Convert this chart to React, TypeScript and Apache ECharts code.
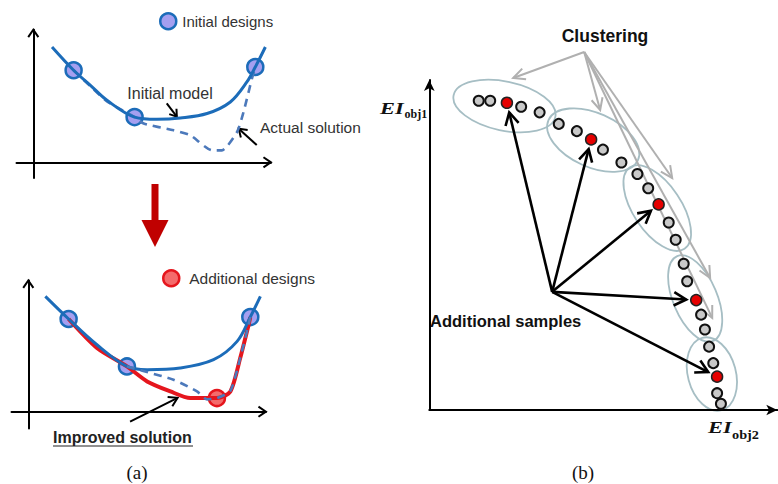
import React, { useEffect, useRef } from "react";
import * as echarts from "echarts";

// ---- Panel (a), top: initial surrogate model vs. actual solution ----
const modelTop: number[][] = [
  [0.78, 8.87], [1.68, 7.08], [2.38, 5.92], [3.07, 4.77], [4.22, 3.48], [5.15, 3.31],
  [6.13, 3.41], [7.24, 3.75], [8.21, 4.64], [8.9, 6.18], [9.25, 7.33], [9.67, 8.87],
];
const actualTop: number[][] = [
  [1.68, 7.08], [2.38, 5.85], [3.07, 4.69], [4.22, 3.48], [4.6, 2.98], [5.85, 2.46],
  [6.54, 2.08], [7.45, 0.92], [7.86, 0.92], [8.49, 2.33], [8.76, 3.87], [9.11, 6.44], [9.25, 7.33],
];
const initialDesignsTop: number[][] = [[1.68, 7.08], [4.22, 3.48], [9.25, 7.33]];

// ---- Panel (a), bottom: improved solution with an additional design ----
const modelBottom: number[][] = [
  [0.71, 8.87], [1.68, 7.13], [2.86, 5.15], [4.11, 3.48], [4.95, 3.23], [6.33, 3.36],
  [7.72, 4.0], [8.7, 5.41], [9.25, 7.28], [9.67, 8.87],
];
const improvedSolution: number[][] = [
  [1.68, 7.13], [2.86, 4.9], [4.11, 3.48], [4.95, 2.33], [5.92, 1.56], [6.75, 1.05],
  [7.86, 1.05], [8.42, 1.56], [8.83, 4.13], [9.18, 6.69], [9.25, 7.28],
];
const actualBottom: number[][] = [
  [4.11, 3.48], [4.95, 3.05], [6.05, 2.46], [7.03, 1.56], [7.45, 0.95], [7.86, 1.05],
  [8.42, 1.6], [8.83, 4.13], [9.18, 6.69], [9.25, 7.28],
];
const initialDesignsBottom: number[][] = [[1.68, 7.13], [4.11, 3.48], [9.25, 7.28]];
const additionalDesigns: number[][] = [[7.86, 1.05]];

// ---- Panel (b): EI front samples and selected (additional) samples ----
const frontSamples: number[][] = [
  [14.2, 93.7], [17.5, 93.7], [26.4, 91.9], [31.7, 90.2], [37.2, 86.7], [42.4, 84.5],
  [49.9, 78.9], [55.2, 75.0], [59.8, 71.5], [62.9, 67.2], [68.8, 56.8], [70.8, 51.6],
  [73.1, 44.3], [74.1, 39.0], [78.1, 28.9], [79.2, 24.4], [80.4, 19.2], [81.6, 14.2],
  [82.7, 5.1], [83.8, 1.9],
];
const selectedSamples: number[][] = [
  [22.3, 93.1], [46.5, 82.0], [65.9, 62.3], [76.7, 33.3], [82.7, 10.1],
];

const SANS = '"Liberation Sans", Arial, sans-serif';
const SERIF = '"Liberation Serif", "Times New Roman", serif';
const BLUE = "#1c6cb9";
const DASH_BLUE = "#4c79bb";
const RED = "#e5161d";

function arrowHead(tip: number[], from: number[], len: number, ang: number) {
  const dx = tip[0] - from[0];
  const dy = tip[1] - from[1];
  const d = Math.hypot(dx, dy) || 1;
  const bx = -dx / d;
  const by = -dy / d;
  const c = Math.cos(ang);
  const s = Math.sin(ang);
  return [
    [tip[0] + len * (bx * c - by * s), tip[1] + len * (bx * s + by * c)],
    [tip[0], tip[1]],
    [tip[0] + len * (bx * c + by * s), tip[1] + len * (-bx * s + by * c)],
  ];
}

function text(x: number, y: number, t: string, font: string, align = "left", fill = "#333", extra: any = {}) {
  return {
    type: "text",
    x,
    y,
    ...extra,
    style: { text: t, font, fill, align, verticalAlign: "middle", textAlign: align, textVerticalAlign: "middle" },
  };
}

function buildGraphics(chart: echarts.ECharts) {
  const px = (gi: number, p: number[]) => chart.convertToPixel({ gridIndex: gi } as any, p) as number[];
  const els: any[] = [];
  const line = (a: number[], b: number[], color: string, w: number) =>
    els.push({ type: "line", shape: { x1: a[0], y1: a[1], x2: b[0], y2: b[1] }, style: { stroke: color, lineWidth: w } });
  const head = (tip: number[], from: number[], len: number, ang: number, color: string, w: number) =>
    els.push({ type: "polyline", shape: { points: arrowHead(tip, from, len, ang) }, style: { stroke: color, lineWidth: w, fill: "none", lineJoin: "miter" } });
  const arrow = (from: number[], tip: number[], len: number, ang: number, color: string, w: number) => {
    line(from, tip, color, w);
    head(tip, from, len, ang, color, w);
  };

  // open arrowheads of the schematic axes in panel (a)
  [0, 1].forEach((gi) => {
    const o = px(gi, [0, 0]);
    const xEnd = px(gi, [9.9, 0]);
    const yEnd = px(gi, [0, gi === 0 ? 10.2 : 10.1]);
    head(xEnd, o, 9, 0.6, "#000", 2);
    head(yEnd, o, 9, 0.6, "#000", 2);
  });

  // annotation arrows, panel (a)
  arrow(px(0, [5.56, 4.54]), px(0, [5.98, 3.51]), 8, 0.6, "#000", 2);
  arrow(px(0, [9.31, 1.33]), px(0, [8.56, 2.58]), 9, 0.6, "#000", 2);
  arrow(px(1, [4.24, -0.77]), px(1, [6.22, 1.07]), 10, 0.55, "#000", 2);

  // big red down arrow between the two schematics
  els.push({
    type: "polygon",
    shape: { points: [[151.5, 184], [158.5, 184], [158.5, 220], [168.5, 220], [155, 247], [141.5, 220], [151.5, 220]] },
    style: { fill: "#c00000" },
  });

  // texts of panel (a)
  els.push(text(170, 93.5, "Initial model", `16px ${SANS}`, "center"));
  els.push(text(260, 127, "Actual solution", `15.5px ${SANS}`));
  els.push(text(53, 437.5, "Improved solution", `bold 16px ${SANS}`, "left", "#222"));
  els.push({ type: "line", shape: { x1: 53, y1: 446, x2: 193, y2: 446 }, style: { stroke: "#222", lineWidth: 1.2 } });
  els.push(text(137, 472, "(a)", `19px ${SERIF}`, "center", "#111"));

  // panel (b): cluster ellipses
  const clusters = [
    { c: [21.6, 92.1], rx: 52, ry: 24.5, rot: -0.21 },
    { c: [47.1, 81.8], rx: 49, ry: 27, rot: -0.42 },
    { c: [65.5, 61.2], rx: 49, ry: 24, rot: -0.98 },
    { c: [76.4, 33.8], rx: 46, ry: 22, rot: -1.17 },
    { c: [81.2, 10.9], rx: 37.5, ry: 24, rot: -1.31 },
  ];
  clusters.forEach((k) => {
    const p = px(2, k.c);
    els.push({
      type: "ellipse",
      x: p[0],
      y: p[1],
      rotation: k.rot,
      shape: { cx: 0, cy: 0, rx: k.rx, ry: k.ry },
      style: { fill: "none", stroke: "#a6bec4", lineWidth: 1.8 },
    });
  });

  // clustering arrows (grey)
  const apex = px(2, [44.5, 108.5]);
  [[24.1, 100.6], [49.1, 90.9], [69.8, 70.3], [80.7, 40.0], [81.3, 27.9]].forEach((t) => {
    arrow(apex, px(2, t), 13, 0.45, "#b0b0b0", 2);
  });

  // additional-sample arrows (black)
  const origin = px(2, [35.3, 35.8]);
  selectedSamples.forEach((s) => {
    const p = px(2, s);
    const dx = p[0] - origin[0];
    const dy = p[1] - origin[1];
    const d = Math.hypot(dx, dy);
    const tip = [p[0] - (dx / d) * 10, p[1] - (dy / d) * 10];
    arrow(origin, tip, 14, 0.5, "#000", 2.6);
  });

  // texts of panel (b)
  els.push(text(605, 36, "Clustering", `bold 17.5px ${SANS}`, "center", "#111"));
  els.push(text(430, 321, "Additional samples", `bold 16.5px ${SANS}`, "left", "#111"));
  els.push(text(380, 108.5, "EI", `italic bold 16px ${SERIF}`, "left", "#111", { scaleX: 1.4 }));
  els.push(text(404.5, 113.5, "obj1", `bold 12px ${SERIF}`, "left", "#111"));
  els.push(text(708, 427.5, "EI", `italic bold 16px ${SERIF}`, "left", "#111", { scaleX: 1.4 }));
  els.push(text(732, 435, "obj2", `bold 13px ${SERIF}`, "left", "#111", { scaleX: 1.1 }));
  els.push(text(583, 472, "(b)", `19px ${SERIF}`, "center", "#111"));

  return els;
}

const hiddenAxisParts = {
  axisTick: { show: false },
  axisLabel: { show: false },
  splitLine: { show: false },
};

const leftAxisLine = { show: true, onZero: true, lineStyle: { color: "#000", width: 2 } };
const rightAxisLine = {
  show: true,
  onZero: true,
  symbol: ["none", "arrow"],
  symbolSize: [8, 11],
  lineStyle: { color: "#000", width: 2 },
};

const option: any = {
  animation: false,
  backgroundColor: "#fff",
  grid: [
    { left: 16.5, top: 29.7, width: 254.4, height: 148.2, outerBoundsMode: "none" },
    { left: 11.5, top: 280.4, width: 254.4, height: 148.2, outerBoundsMode: "none" },
    { left: 429.3, top: 80, width: 348, height: 330, outerBoundsMode: "none" },
  ],
  xAxis: [
    { gridIndex: 0, type: "value", min: -0.7, max: 9.9, axisLine: leftAxisLine, ...hiddenAxisParts },
    { gridIndex: 1, type: "value", min: -0.7, max: 9.9, axisLine: leftAxisLine, ...hiddenAxisParts },
    { gridIndex: 2, type: "value", min: 0, max: 100, axisLine: rightAxisLine, ...hiddenAxisParts },
  ],
  yAxis: [
    { gridIndex: 0, type: "value", min: -1.2, max: 10.2, axisLine: leftAxisLine, ...hiddenAxisParts },
    { gridIndex: 1, type: "value", min: -1.3, max: 10.1, axisLine: leftAxisLine, ...hiddenAxisParts },
    { gridIndex: 2, type: "value", min: 0, max: 100, axisLine: rightAxisLine, ...hiddenAxisParts },
  ],
  legend: [
    {
      data: ["Initial designs"],
      left: 159,
      top: 12,
      padding: 0,
      icon: "circle",
      itemWidth: 16,
      itemHeight: 16,
      itemGap: 0,
      selectedMode: false,
      itemStyle: { color: "#a59ff0", borderColor: BLUE, borderWidth: 2.5 },
      textStyle: { fontSize: 15, color: "#333", fontFamily: SANS, padding: [0, 0, 0, 1] },
    },
    {
      data: ["Additional designs"],
      left: 162,
      top: 269,
      padding: 0,
      icon: "circle",
      itemWidth: 16,
      itemHeight: 16,
      itemGap: 0,
      selectedMode: false,
      itemStyle: { color: "#f46b6b", borderColor: RED, borderWidth: 2.5 },
      textStyle: { fontSize: 15.5, color: "#333", fontFamily: SANS, padding: [0, 0, 0, 5] },
    },
  ],
  series: [
    {
      name: "Actual solution",
      type: "line",
      xAxisIndex: 0,
      yAxisIndex: 0,
      data: actualTop,
      smooth: 0.2,
      symbol: "none",
      silent: true,
      lineStyle: { color: DASH_BLUE, width: 2.6, type: [8, 6] },
    },
    {
      name: "Initial model",
      type: "line",
      xAxisIndex: 0,
      yAxisIndex: 0,
      data: modelTop,
      smooth: 0.35,
      symbol: "none",
      silent: true,
      lineStyle: { color: BLUE, width: 3 },
    },
    {
      name: "Initial designs",
      type: "scatter",
      xAxisIndex: 0,
      yAxisIndex: 0,
      data: initialDesignsTop,
      symbolSize: 16,
      silent: true,
      itemStyle: { color: "#a59ff0", borderColor: BLUE, borderWidth: 2.5, opacity: 1 },
    },
    {
      name: "Improved solution",
      type: "line",
      xAxisIndex: 1,
      yAxisIndex: 1,
      data: improvedSolution,
      smooth: 0.25,
      symbol: "none",
      silent: true,
      lineStyle: { color: RED, width: 4 },
    },
    {
      name: "Updated model",
      type: "line",
      xAxisIndex: 1,
      yAxisIndex: 1,
      data: modelBottom,
      smooth: 0.35,
      symbol: "none",
      silent: true,
      lineStyle: { color: BLUE, width: 3 },
    },
    {
      name: "Actual solution (b)",
      type: "line",
      xAxisIndex: 1,
      yAxisIndex: 1,
      data: actualBottom,
      smooth: 0.2,
      symbol: "none",
      silent: true,
      lineStyle: { color: DASH_BLUE, width: 2.6, type: [8, 6] },
    },
    {
      name: "Initial designs",
      type: "scatter",
      xAxisIndex: 1,
      yAxisIndex: 1,
      data: initialDesignsBottom,
      symbolSize: 16,
      silent: true,
      itemStyle: { color: "#a59ff0", borderColor: BLUE, borderWidth: 2.5, opacity: 1 },
    },
    {
      name: "Additional designs",
      type: "scatter",
      xAxisIndex: 1,
      yAxisIndex: 1,
      data: additionalDesigns,
      symbolSize: 16,
      silent: true,
      itemStyle: { color: "#f46b6b", borderColor: RED, borderWidth: 2.5, opacity: 1 },
    },
    {
      name: "EI samples",
      type: "scatter",
      xAxisIndex: 2,
      yAxisIndex: 2,
      data: frontSamples,
      symbolSize: 10,
      silent: true,
      itemStyle: { color: "#c9c9c9", borderColor: "#111", borderWidth: 2, opacity: 1 },
    },
    {
      name: "Additional samples",
      type: "scatter",
      xAxisIndex: 2,
      yAxisIndex: 2,
      data: selectedSamples,
      symbolSize: 11,
      silent: true,
      itemStyle: { color: "#e60000", borderColor: "#222", borderWidth: 1.5, opacity: 1 },
    },
  ],
};

export default function App() {
  const ref = useRef<HTMLDivElement>(null);
  useEffect(() => {
    if (!ref.current) return;
    const chart = echarts.init(ref.current, null, { renderer: "svg" });
    chart.setOption(option);
    chart.setOption({ graphic: buildGraphics(chart) });
    return () => chart.dispose();
  }, []);
  return (
    <div
      ref={ref}
      style={{ position: "fixed", left: 0, top: 0, width: 778, height: 484, background: "#fff" }}
    />
  );
}
